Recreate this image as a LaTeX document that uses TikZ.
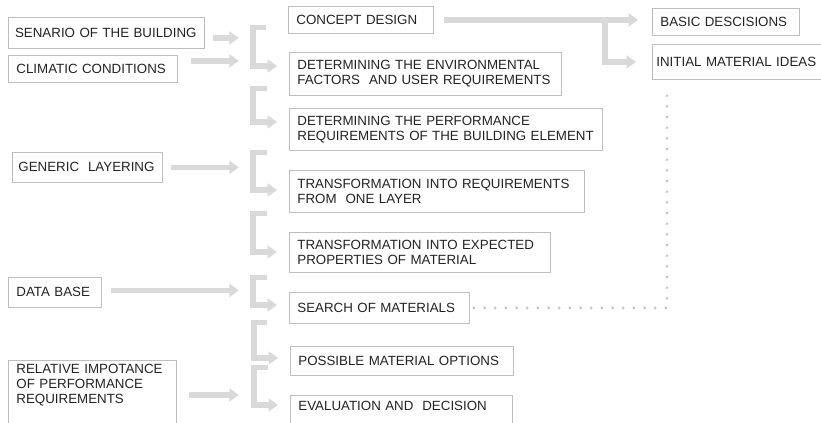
\documentclass[tikz,border=0pt]{standalone}
\usepackage{fontspec}
\setmainfont{Liberation Sans}
\usepackage{xcolor}
\usetikzlibrary{arrows.meta, calc}

\definecolor{flowgray}{RGB}{217,217,217}
\definecolor{boxgray}{RGB}{190,190,190}
\definecolor{dotgray}{RGB}{195,195,195}
\definecolor{ink}{RGB}{35,35,35}

\begin{document}
\begin{tikzpicture}[
  x=0.75pt, y=-0.75pt,
  box/.style={draw=boxgray, line width=0.6pt, anchor=north west, align=left,
              inner xsep=6pt, inner ysep=3pt, text=ink,
              font=\fontsize{10}{11.25}\selectfont},
  flow/.style={draw=flowgray, line width=4pt, line join=miter,
               -{Triangle[length=7pt, width=9.5pt]}},
  dots/.style={draw=dotgray, line width=2.2pt, line cap=round,
               dash pattern=on 0pt off 8pt}
]
\clip (0,0) rectangle (821,423);
\fill[white] (0,0) rectangle (821,423);

% inputs
\node[box, inner xsep=5pt, text width=137pt, minimum height=23.25pt] (sen) at (8,17) {SENARIO OF THE BUILDING};
\node[box, text width=114.75pt, minimum height=20.25pt] (clim) at (8,55) {CLIMATIC CONDITIONS};
\node[box, inner xsep=4.5pt, text width=103.5pt, minimum height=22.5pt] (gen) at (12,152) {GENERIC~ LAYERING};
\node[box, text width=57.75pt, minimum height=22.5pt] (db) at (8,277) {DATA BASE};
\node[box, text width=114pt, text depth=60pt] (rel) at (8,360)
  {RELATIVE IMPOTANCE\\OF PERFORMANCE\\REQUIREMENTS};

% main sequence
\node[box, text width=96.75pt, minimum height=20.25pt] (cd) at (288,6) {CONCEPT DESIGN};
\node[box, text width=192pt, minimum height=32.25pt] (env) at (289,52)
  {DETERMINING THE ENVIRONMENTAL\\FACTORS~ AND USER REQUIREMENTS};
\node[box, text width=222.75pt, minimum height=31.5pt] (perf) at (289,108)
  {DETERMINING THE PERFORMANCE\\REQUIREMENTS OF THE BUILDING ELEMENT};
\node[box, text width=209.25pt, minimum height=31.5pt] (tr1) at (289,170)
  {TRANSFORMATION INTO REQUIREMENTS\\FROM~ ONE LAYER};
\node[box, text width=183.75pt, minimum height=30pt] (tr2) at (289,232)
  {TRANSFORMATION INTO EXPECTED\\PROPERTIES OF MATERIAL};
\node[box, text width=123pt, minimum height=23.25pt] (search) at (289,292) {SEARCH OF MATERIALS};
\node[box, text width=155.25pt, minimum height=21.75pt] (poss) at (290,346) {POSSIBLE MATERIAL OPTIONS};
\node[box, text width=154.5pt, inner ysep=4.5pt, text depth=20pt] (eval) at (290,395) {EVALUATION AND~ DECISION};

% outcomes of the concept
\node[box, text width=98.25pt, minimum height=20.25pt] (basic) at (652,8) {BASIC DESCISIONS};
\node[box, inner xsep=3pt, text width=121.5pt, minimum height=26.25pt] (ini) at (652,44) {INITIAL MATERIAL IDEAS};

% inputs feeding the sequence
\draw[flow] ($(sen.east)+(8,5)$) -- ++(26,0);
\draw[flow] ($(clim.east)+(13,-8)$) -- ++(48,0);
\draw[flow] ($(gen.east)+(8,0)$) -- ++(68,0);
\draw[flow] ($(db.east)+(9,-2)$) -- ++(128,0);
\draw[flow] ($(rel.north east)+(12,35)$) -- ++(50,0);

% brackets between steps
\foreach \a/\b/\t/\e in {cd/env/-6/14, env/perf/-7/14, perf/tr1/2/20, tr1/tr2/1/20,
                         tr2/search/5/13, search/poss/-1/12, poss/eval/-8/10}
  \draw[flow] ($(\a.south west)+(-22,\t)$) -| ($(\b.north west)+(-36,\e)$)
              -- ($(\b.north west)+(-12,\e)$);

% concept design split
\coordinate (fork) at ($(cd.east -| basic.west)+(-47,0)$);
\draw[flow] ($(cd.east)+(10,0)$) -- ($(cd.east -| basic.west)+(-14,0)$);
\draw[flow] (fork) |- ($(ini.west)+(-16,0)$);

% feedback from the search
\draw[dots] ($(search.east)+(4,0)$) -| ($(ini.south west)+(15,11)$);
\end{tikzpicture}
\end{document}
